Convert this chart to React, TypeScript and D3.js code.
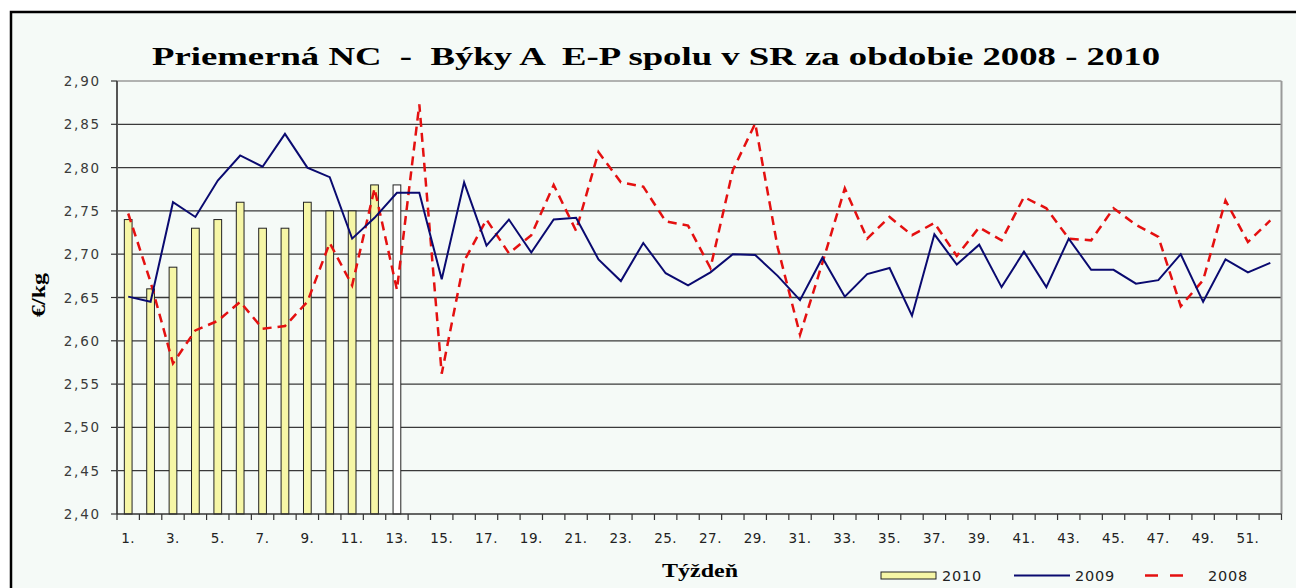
import React from "react";
import * as d3 from "d3";

const weeks = [1,2,3,4,5,6,7,8,9,10,11,12,13,14,15,16,17,18,19,20,21,22,23,24,25,26,27,28,29,30,31,32,33,34,35,36,37,38,39,40,41,42,43,44,45,46,47,48,49,50,51,52];

const s2010 = [2.74,2.66,2.685,2.73,2.74,2.76,2.73,2.73,2.76,2.75,2.75,2.78,2.78];

const s2009 = [2.651,2.645,2.760,2.743,2.785,2.814,2.801,2.839,2.800,2.789,2.718,2.742,2.771,2.771,2.671,2.783,2.710,2.740,2.702,2.740,2.742,2.694,2.669,2.713,2.678,2.664,2.679,2.700,2.699,2.675,2.647,2.696,2.651,2.677,2.684,2.629,2.723,2.688,2.711,2.662,2.703,2.662,2.718,2.682,2.682,2.666,2.670,2.700,2.645,2.694,2.679,2.690];

const s2008 = [2.747,2.668,2.574,2.612,2.623,2.645,2.614,2.617,2.645,2.713,2.664,2.776,2.659,2.873,2.562,2.692,2.740,2.701,2.722,2.780,2.727,2.818,2.783,2.778,2.738,2.733,2.684,2.797,2.851,2.708,2.607,2.690,2.776,2.718,2.743,2.722,2.736,2.698,2.731,2.716,2.766,2.753,2.718,2.716,2.753,2.734,2.720,2.640,2.670,2.762,2.714,2.739];

const yTicks = [2.40,2.45,2.50,2.55,2.60,2.65,2.70,2.75,2.80,2.85,2.90];

const title = "Priemerná NC  -  Býky A  E-P spolu v SR za obdobie 2008 - 2010";
const yTitle = "€/kg";
const xTitle = "Týždeň";
const legendLabels = ["2010", "2009", "2008"];

export default function App() {
  const W = 1296, H = 588;
  const left = 117, right = 1281.5, top = 81, bottom = 514;
  const x = d3.scaleBand<number>().domain(weeks).range([left, right]).padding(0);
  const y = d3.scaleLinear().domain([2.4, 2.9]).range([bottom, top]);
  const bw = x.bandwidth();
  const barW = bw * 0.345;
  const cx = (w: number) => (x(w) as number) + bw / 2;

  const line = d3.line<number>().x((_, i) => cx(weeks[i])).y((d) => y(d));

  const serif = "'Liberation Serif', 'Times New Roman', serif";
  const sans = "'DejaVu Sans', Verdana, sans-serif";

  return (
    <svg width={W} height={H} style={{ position: "absolute", left: 0, top: 0, display: "block" }}>
      <rect x={0} y={0} width={W} height={H} fill="#ffffff" />
      <rect x={11} y={12} width={W + 20} height={H + 20} fill="#f5faf7" stroke="#000" strokeWidth={2.5} />

      <text x={152} y={65} textLength={1008} lengthAdjust="spacingAndGlyphs" fontFamily={serif} fontWeight="bold" fontSize={26} style={{ whiteSpace: "pre" }} fill="#000">
        {title}
      </text>

      {/* gridlines */}
      {yTicks.filter((t) => t > 2.41 && t < 2.89).map((t) => (
        <line key={"g" + t} x1={left} x2={right} y1={y(t)} y2={y(t)} stroke="#3a3a3a" strokeWidth={1.3} />
      ))}
      {/* plot border top/right */}
      <line x1={left} x2={right} y1={top} y2={top} stroke="#9a9a9a" strokeWidth={1.5} />
      <line x1={right} x2={right} y1={top} y2={bottom} stroke="#9a9a9a" strokeWidth={2} />

      {/* bars */}
      {s2010.map((v, i) => (
        <rect
          key={"b" + i}
          x={cx(weeks[i]) - barW / 2}
          y={y(v)}
          width={barW}
          height={bottom - y(v)}
          fill={i === s2010.length - 1 ? "#ffffff" : "#f6f6a6"}
          stroke="#222"
          strokeWidth={1}
        />
      ))}

      {/* axes */}
      <line x1={left} x2={left} y1={top} y2={bottom} stroke="#555" strokeWidth={2} />
      <line x1={left} x2={right} y1={bottom} y2={bottom} stroke="#333" strokeWidth={1.5} />
      {yTicks.map((t) => (
        <g key={"yt" + t}>
          <line x1={111} x2={left} y1={y(t)} y2={y(t)} stroke="#333" strokeWidth={1.2} />
          <text x={101} y={y(t) + 5} textAnchor="end" fontFamily={sans} fontSize={13.5} letterSpacing={1.8} fill="#3a3a3a">
            {t.toFixed(2).replace(".", ",")}
          </text>
        </g>
      ))}
      {weeks.map((w) => (
        <line key={"xt" + w} x1={x(w) as number} x2={x(w) as number} y1={bottom} y2={bottom + 6} stroke="#333" strokeWidth={1.2} />
      ))}
      <line x1={right} x2={right} y1={bottom} y2={bottom + 6} stroke="#333" strokeWidth={1.2} />
      {weeks.filter((w) => w % 2 === 1).map((w) => (
        <text key={"xl" + w} x={cx(w)} y={543} textAnchor="middle" fontFamily={sans} fontSize={13.5} letterSpacing={0.5} fill="#222">
          {w + "."}
        </text>
      ))}

      {/* lines */}
      <path d={line(s2008) || ""} fill="none" stroke="#e41010" strokeWidth={2.5} strokeDasharray="9,6" />
      <path d={line(s2009) || ""} fill="none" stroke="#0a0a70" strokeWidth={2} strokeLinejoin="miter" />

      {/* axis titles */}
      <text transform="translate(45,295) rotate(-90)" textAnchor="middle" textLength={44} lengthAdjust="spacingAndGlyphs" fontFamily={serif} fontWeight="bold" fontSize={18} fill="#000">
        {yTitle}
      </text>
      <text x={662} y={577} textLength={76} lengthAdjust="spacingAndGlyphs" fontFamily={serif} fontWeight="bold" fontSize={18} fill="#000">
        {xTitle}
      </text>

      {/* legend */}
      <rect x={881} y={572} width={55} height={7} fill="#f6f6a6" stroke="#222" strokeWidth={1} />
      <text x={942} y={581} fontFamily={sans} fontSize={14.5} letterSpacing={0.8} fill="#222">{legendLabels[0]}</text>
      <line x1={1014} x2={1070} y1={575.5} y2={575.5} stroke="#0a0a70" strokeWidth={2} />
      <text x={1075} y={581} fontFamily={sans} fontSize={14.5} letterSpacing={0.8} fill="#222">{legendLabels[1]}</text>
      <line x1={1145} x2={1183} y1={575.5} y2={575.5} stroke="#e41010" strokeWidth={2.5} strokeDasharray="13,12" />
      <text x={1208} y={581} fontFamily={sans} fontSize={14.5} letterSpacing={0.8} fill="#222">{legendLabels[2]}</text>
    </svg>
  );
}
